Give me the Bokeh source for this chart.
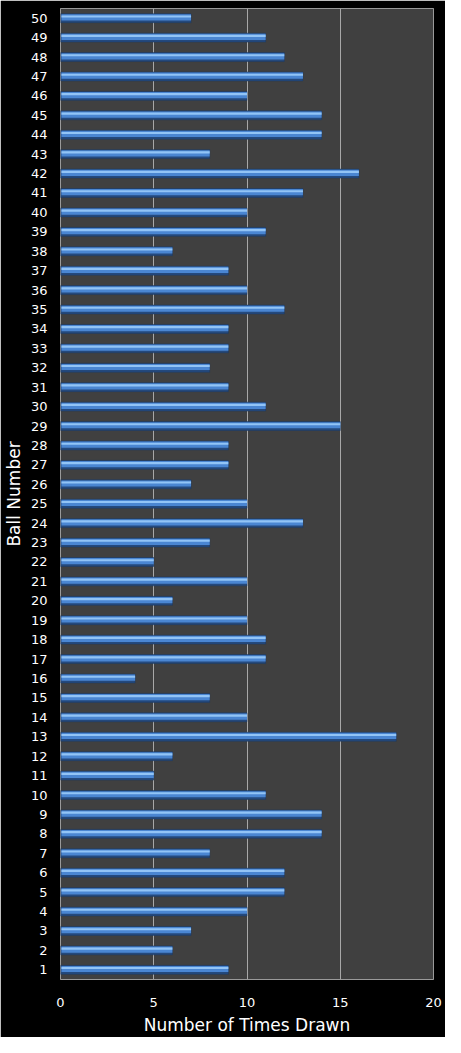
from bokeh.plotting import figure
from bokeh.models import ColumnDataSource, FixedTicker, Range1d
from bokeh.transform import dodge
from bokeh.embed import file_html
from bokeh.resources import INLINE

balls = list(range(1, 51))
times_drawn = [9, 6, 7, 10, 12, 12, 8, 14, 14, 11,
               5, 6, 18, 10, 8, 4, 11, 11, 10, 6,
               10, 5, 8, 13, 10, 7, 9, 9, 15, 11,
               9, 8, 9, 9, 12, 10, 9, 6, 11, 10,
               13, 16, 8, 14, 14, 10, 13, 12, 11, 7]
x_ticks = [0, 5, 10, 15, 20]

source = ColumnDataSource(data=dict(ball=balls, drawn=times_drawn))

p = figure(width=445, height=1037, output_backend="svg", toolbar_location=None,
           x_range=Range1d(0, 20), y_range=Range1d(0.5, 50.5),
           background_fill_color="#404040", border_fill_color="#000000",
           min_border_left=58, min_border_right=12, min_border_top=8, min_border_bottom=58,
           outline_line_color="#9a9a9a", outline_line_width=1)

# bars drawn in layers to get the bevelled look
p.hbar(y='ball', right='drawn', left=0, height=0.46, source=source,
       fill_color="#24497d", line_color="#1c3a63", line_width=0.5)
p.hbar(y=dodge('ball', 0.04, range=p.y_range), right='drawn', left=0.05, height=0.32,
       source=source, fill_color="#4a86d2", line_color=None)
p.hbar(y=dodge('ball', 0.09, range=p.y_range), right='drawn', left=0.05, height=0.11,
       source=source, fill_color="#92c4f6", line_color=None)

p.xaxis.ticker = FixedTicker(ticks=x_ticks)
p.yaxis.ticker = FixedTicker(ticks=balls)
p.xaxis.axis_label = "Number of Times Drawn"
p.yaxis.axis_label = "Ball Number"

for ax in (p.xaxis, p.yaxis):
    ax.axis_line_color = None
    ax.major_tick_line_color = None
    ax.minor_tick_line_color = None
    ax.major_label_text_color = "#ffffff"
    ax.major_label_text_font = "DejaVu Sans"
    ax.major_label_text_font_size = "13px"
    ax.axis_label_text_color = "#ffffff"
    ax.axis_label_text_font = "DejaVu Sans"
    ax.axis_label_text_font_size = "17px"
    ax.axis_label_text_font_style = "normal"

p.xaxis.major_label_standoff = 12
p.yaxis.major_label_standoff = 7
p.xaxis.axis_label_standoff = 5
p.yaxis.axis_label_standoff = 4

p.xgrid.grid_line_color = "#a8a8a8"
p.xgrid.grid_line_width = 1
p.ygrid.grid_line_color = None

open("out.html", "w").write(file_html(p, INLINE))
